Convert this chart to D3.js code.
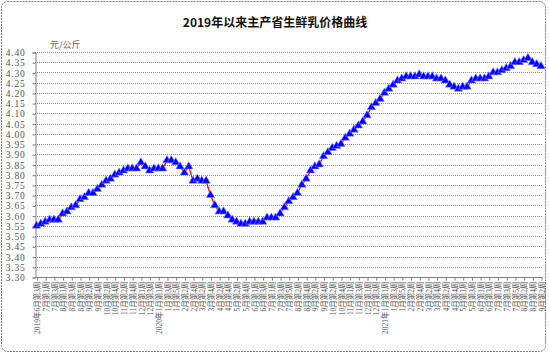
<!DOCTYPE html>
<html><head><meta charset="utf-8">
<script src="https://cdn.jsdelivr.net/npm/d3@7"></script>
<style>
html,body{margin:0;padding:0;background:#fff;}
svg{display:block;}
</style></head>
<body>
<svg id="c" width="549" height="356"></svg>
<script>
const title = "2019年以来主产省生鲜乳价格曲线";
const unitLabel = "元/公斤";
const weekLabels = [
"2019年6月第3周","6月第4周",
"7月第1周","7月第2周","7月第3周","7月第4周",
"8月第1周","8月第2周","8月第3周","8月第4周","8月第5周",
"9月第1周","9月第2周","9月第3周","9月第4周",
"10月第1周","10月第2周","10月第3周","10月第4周",
"11月第1周","11月第2周","11月第3周","11月第4周","11月第5周",
"12月第1周","12月第2周","12月第3周","12月第4周",
"2020年1月第1周","1月第2周","1月第3周","1月第4周","1月第5周",
"2月第1周","2月第2周","2月第3周","2月第4周",
"3月第1周","3月第2周","3月第3周","3月第4周",
"4月第1周","4月第2周","4月第3周","4月第4周",
"5月第1周","5月第2周","5月第3周","5月第4周","5月第5周",
"6月第1周","6月第2周","6月第3周","6月第4周",
"7月第1周","7月第2周","7月第3周","7月第4周","7月第5周",
"8月第1周","8月第2周","8月第3周","8月第4周",
"9月第1周","9月第2周","9月第3周","9月第4周",
"10月第1周","10月第2周","10月第3周","10月第4周","10月第5周",
"11月第1周","11月第2周","11月第3周","11月第4周",
"12月第1周","12月第2周","12月第3周","12月第4周",
"2021年1月第1周","1月第2周","1月第3周","1月第4周","1月第5周",
"2月第1周","2月第2周","2月第3周","2月第4周",
"3月第1周","3月第2周","3月第3周","3月第4周",
"4月第1周","4月第2周","4月第3周","4月第4周","4月第5周",
"5月第1周","5月第2周","5月第3周","5月第4周",
"6月第1周","6月第2周","6月第3周","6月第4周",
"7月第1周","7月第2周","7月第3周","7月第4周","7月第5周",
"8月第1周","8月第2周","8月第3周","8月第4周",
"9月第1周","9月第2周"
];
const prices = [
3.55,3.56,3.57,3.58,3.58,3.58,3.61,3.62,3.64,3.65,
3.68,3.69,3.71,3.71,3.73,3.75,3.77,3.78,3.80,3.81,
3.82,3.83,3.83,3.83,3.86,3.84,3.82,3.83,3.83,3.83,
3.87,3.87,3.86,3.84,3.81,3.84,3.77,3.78,3.77,3.77,
3.70,3.65,3.62,3.62,3.60,3.58,3.57,3.56,3.56,3.57,
3.57,3.57,3.57,3.59,3.59,3.59,3.61,3.64,3.67,3.69,
3.71,3.75,3.78,3.82,3.84,3.85,3.89,3.91,3.93,3.94,
3.95,3.98,4.00,4.02,4.04,4.06,4.09,4.13,4.15,4.17,
4.20,4.22,4.24,4.26,4.27,4.28,4.28,4.28,4.29,4.28,
4.28,4.28,4.27,4.27,4.26,4.24,4.23,4.22,4.23,4.23,
4.26,4.27,4.27,4.27,4.28,4.30,4.30,4.31,4.32,4.33,
4.35,4.35,4.36,4.37,4.35,4.34,4.33
];
const yTicks = [3.30,3.35,3.40,3.45,3.50,3.55,3.60,3.65,3.70,3.75,3.80,3.85,3.90,3.95,4.00,4.05,4.10,4.15,4.20,4.25,4.30,4.35,4.40];

const svg = d3.select("#c");
const L = 35, R = 541, T = 52, B = 277;

svg.append("rect").attr("x",1.5).attr("y",1.5).attr("width",544).attr("height",350)
  .attr("rx",6).attr("fill","none").attr("stroke","#7a7a7a").attr("stroke-dasharray","2,1");

const x = d3.scalePoint().domain(d3.range(prices.length)).range([L+1.5, R]).padding(0);
const y = d3.scaleLinear().domain([3.30,4.40]).range([B,T]);

// gridlines
svg.append("g").selectAll("line").data(yTicks.filter(v=>v>3.3)).join("line")
  .attr("x1",L).attr("x2",R+1).attr("y1",d=>Math.round(y(d))+0.5).attr("y2",d=>Math.round(y(d))+0.5)
  .attr("stroke","#8f8f8f").attr("stroke-dasharray","1,1");

// y axis
const yAxis = d3.axisLeft(y).tickValues(yTicks).tickFormat(d3.format(".2f")).tickSize(3).tickPadding(7);
const gy = svg.append("g").attr("transform",`translate(${L+0.5},0.5)`).call(yAxis);
gy.select(".domain").attr("stroke","#808080");
gy.selectAll(".tick line").attr("stroke","#808080");
gy.selectAll("text").attr("font-family","'Liberation Serif', serif").attr("font-size","9.5px")
  .attr("letter-spacing","0.8px").attr("fill","#555");

// x axis
const xAxis = d3.axisBottom(x).tickValues(d3.range(0,prices.length,2)).tickFormat(i=>weekLabels[i]).tickSize(3).tickPadding(2);
const gx = svg.append("g").attr("transform",`translate(0.5,${B+0.5})`).call(xAxis);
gx.select(".domain").attr("stroke","#808080").attr("d",`M${L},0H${R+1}`);
gx.selectAll(".tick line").attr("stroke","#808080");
gx.selectAll("text")
  .attr("font-family","'Liberation Serif','Noto Sans CJK SC', serif").attr("font-size","7.5px").attr("fill","#555")
  .attr("text-anchor","end").attr("transform","rotate(-90)").attr("x",-4).attr("y",0).attr("dy","0.35em");

// line
const line = d3.line().x((d,i)=>x(i)).y(d=>y(d));
svg.append("path").datum(prices).attr("d",line).attr("fill","none").attr("stroke","#ff0000").attr("stroke-width",1.3);

// markers
const tri = d3.symbol().type(d3.symbolTriangle).size(30);
svg.append("g").selectAll("path").data(prices).join("path")
  .attr("d",tri).attr("transform",(d,i)=>`translate(${x(i)},${y(d)})`)
  .attr("fill","#0000ff").attr("stroke","#7f7fff").attr("stroke-width",0.6);

// title & unit
svg.append("text").attr("x",275).attr("y",27).attr("text-anchor","middle")
  .attr("font-family","'Noto Sans CJK SC', sans-serif").attr("font-weight","bold").attr("font-size","12px")
  .attr("fill","#111").text(title);
svg.append("text").attr("x",50).attr("y",48)
  .attr("font-family","'Noto Sans CJK SC', serif").attr("font-size","9px").attr("fill","#666").text(unitLabel);
</script>
</body></html>
